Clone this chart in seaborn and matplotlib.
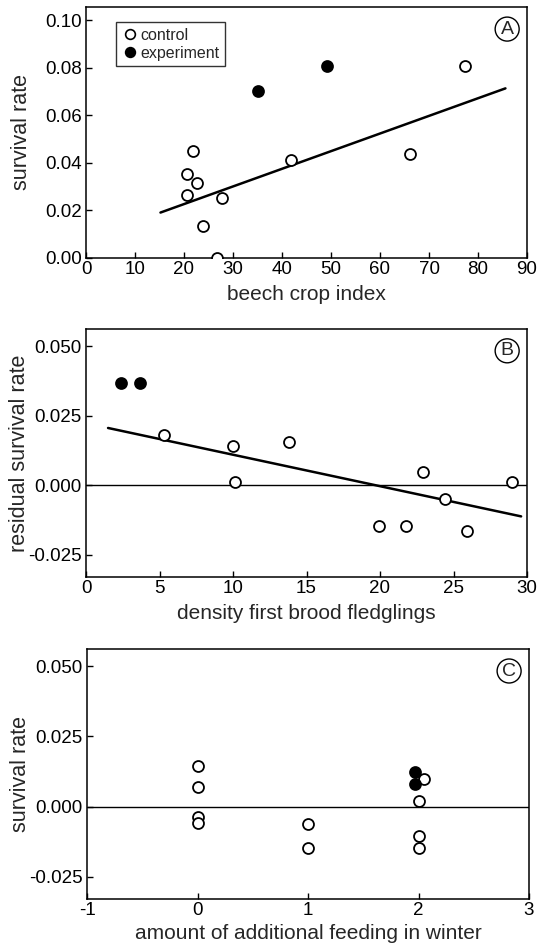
import matplotlib
matplotlib.use('Agg')
import matplotlib.pyplot as plt
import seaborn as sns
from matplotlib.lines import Line2D

# panel A: survival rate vs beech crop index
a_ctrl_x = [20.7, 20.7, 21.9, 22.6, 23.9, 26.7, 27.7, 41.8, 66.1, 77.3]
a_ctrl_y = [0.0265, 0.0355, 0.0448, 0.0316, 0.0136, 0.0, 0.0251, 0.0411, 0.0436, 0.0808]
a_exp_x = [35.0, 49.2]
a_exp_y = [0.0703, 0.0808]
a_fit_x = [15.2, 85.6]
a_fit_y = [0.0191, 0.0713]

# panel B: residual survival vs density first brood fledglings
b_ctrl_x = [5.3, 10.0, 10.15, 13.8, 19.9, 21.8, 22.9, 24.4, 25.9, 29.0]
b_ctrl_y = [0.0182, 0.0140, 0.0010, 0.0155, -0.0145, -0.0148, 0.0048, -0.0048, -0.0163, 0.0010]
b_exp_x = [2.4, 3.7]
b_exp_y = [0.0367, 0.0367]
b_fit_x = [1.5, 29.6]
b_fit_y = [0.0206, -0.0112]

# panel C: survival vs additional winter feeding
c_ctrl_x = [0, 0, 0, 0, 1, 1, 2.05, 2.0, 2.0, 2.0]
c_ctrl_y = [0.0146, 0.0069, -0.0036, -0.0060, -0.0064, -0.0149, 0.0098, 0.0021, -0.0104, -0.0149]
c_exp_x = [1.97, 1.97]
c_exp_y = [0.0123, 0.0079]

sns.set_style("ticks")
plt.rcParams['font.family'] = ['Liberation Sans', 'DejaVu Sans']
plt.rcParams['axes.unicode_minus'] = False

W, H = 550, 947
fig = plt.figure(figsize=(W / 100, H / 100), dpi=100)


def px_axes(left, top, right, bottom):
    return fig.add_axes([left / W, 1 - bottom / H, (right - left) / W, (bottom - top) / H])


ax_a = px_axes(86, 7, 527, 258)
ax_b = px_axes(86, 329, 527, 577)
ax_c = px_axes(87, 649, 529, 899)

ms = 62
lw = 1.3


def draw(ax, cx, cy, ex, ey, fx=None, fy=None, zero=False):
    if zero:
        ax.axhline(0, color='black', lw=1.0, zorder=1)
    if fx is not None:
        sns.lineplot(x=fx, y=fy, ax=ax, color='black', lw=1.8, estimator=None, sort=False, zorder=2)
    sns.scatterplot(x=cx, y=cy, ax=ax, color='white', edgecolor='black', linewidth=lw, s=ms, zorder=3)
    sns.scatterplot(x=ex, y=ey, ax=ax, color='black', edgecolor='black', linewidth=lw, s=ms, zorder=3)


draw(ax_a, a_ctrl_x, a_ctrl_y, a_exp_x, a_exp_y, a_fit_x, a_fit_y)
draw(ax_b, b_ctrl_x, b_ctrl_y, b_exp_x, b_exp_y, b_fit_x, b_fit_y, zero=True)
draw(ax_c, c_ctrl_x, c_ctrl_y, c_exp_x, c_exp_y, zero=True)

ax_a.set_xlim(0, 90)
ax_a.set_ylim(0, 0.1055)
ax_a.set_xticks(range(0, 91, 10))
ax_a.set_yticks([0.0, 0.02, 0.04, 0.06, 0.08, 0.10])
ax_a.set_yticklabels(['0.00', '0.02', '0.04', '0.06', '0.08', '0.10'])

for ax in (ax_b, ax_c):
    ax.set_ylim(-0.033, 0.0562)
    ax.set_yticks([-0.025, 0.0, 0.025, 0.05])
    ax.set_yticklabels(['-0.025', '0.000', '0.025', '0.050'])
ax_b.set_xlim(0, 30)
ax_b.set_xticks(range(0, 31, 5))
ax_c.set_xlim(-1, 3)
ax_c.set_xticks([-1, 0, 1, 2, 3])

labels = [
    (ax_a, 'beech crop index', 'survival rate', 'A', 22, 27),
    (ax_b, 'density first brood fledglings', 'residual survival rate', 'B', 20, 27),
    (ax_c, 'amount of additional feeding in winter', 'survival rate', 'C', 21, 25),
]
for ax, xl, yl, letter, ylx, xly in labels:
    for s in ax.spines.values():
        s.set_color('black')
        s.set_linewidth(1.1)
    ax.tick_params(direction='in', length=4, width=1, labelsize=13.5, colors='black')
    ax.tick_params(axis='x', pad=2.5)
    ax.tick_params(axis='y', pad=3)
    ax.set_xlabel(xl, fontsize=15)
    ax.set_ylabel(yl, fontsize=15.5, va='center')
    bb = ax.get_position()
    h_px = bb.height * H
    w_px = bb.width * W
    ax.xaxis.set_label_coords(0.5, -xly / h_px)
    ax.yaxis.set_label_coords((ylx - bb.x0 * W) / w_px, 0.5)
    ax.text(0.955, 0.912, letter, transform=ax.transAxes, fontsize=14,
            ha='center', va='center',
            bbox=dict(boxstyle='circle,pad=0.18', fc='white', ec='black', lw=1.0))

handles = [
    Line2D([], [], marker='o', ls='', mfc='white', mec='black', mew=1.2, ms=7, label='control'),
    Line2D([], [], marker='o', ls='', mfc='black', mec='black', mew=1.2, ms=7, label='experiment'),
]
leg = ax_a.legend(handles=handles, loc='upper left', bbox_to_anchor=(0.068, 0.94),
                  fontsize=11.5, frameon=True, fancybox=False, edgecolor='black',
                  handletextpad=0.2, handlelength=1.0, borderpad=0.35, labelspacing=0.2,
                  borderaxespad=0)
leg.get_frame().set_linewidth(1.0)

fig.savefig('out.png', dpi=100)
